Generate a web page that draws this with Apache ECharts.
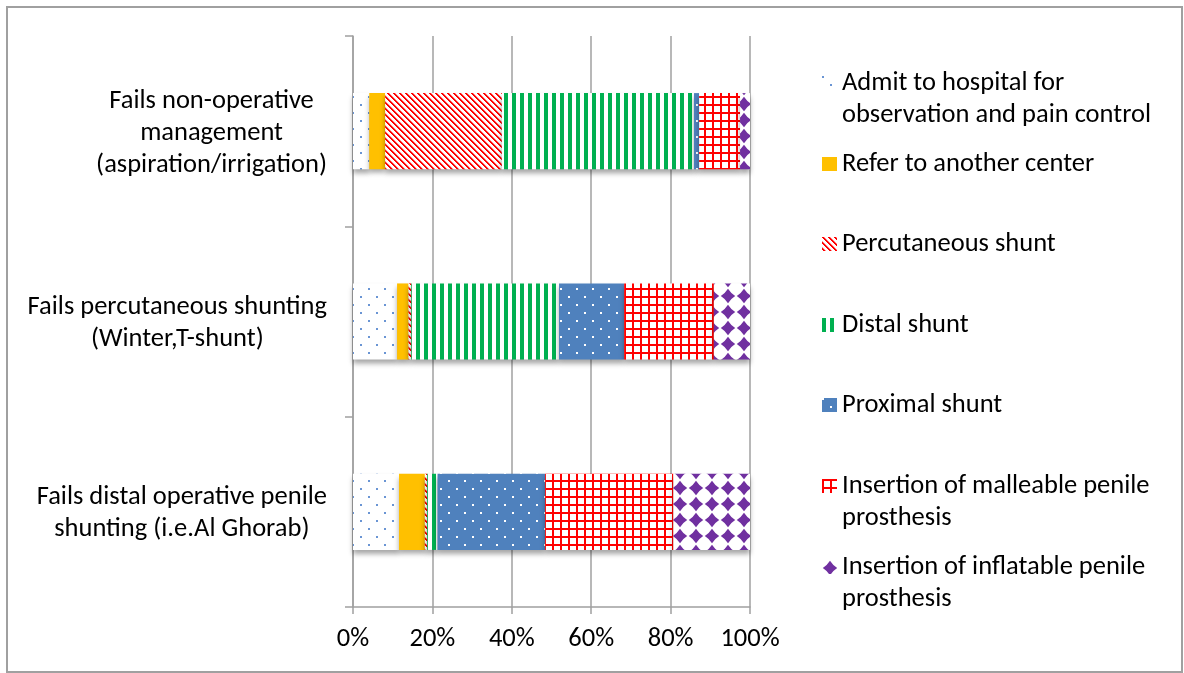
<!DOCTYPE html>
<html>
<head>
<meta charset="utf-8">
<script src="https://cdn.jsdelivr.net/npm/echarts@6/dist/echarts.min.js"></script>
<style>
  html, body { margin: 0; padding: 0; background: #ffffff; }
  #chart { width: 1184px; height: 673px; }
</style>
</head>
<body>
<div id="chart"></div>
<script>
// Categories, top to bottom
const categories = [
  'Fails non-operative\nmanagement\n(aspiration/irrigation)',
  'Fails percutaneous shunting\n(Winter,T-shunt)',
  'Fails distal operative penile\nshunting (i.e.Al Ghorab)'
];

// Series names (legend order)
const seriesNames = [
  'Admit to hospital for\nobservation and pain control',
  'Refer to another center',
  'Percutaneous shunt',
  'Distal shunt',
  'Proximal shunt',
  'Insertion of malleable penile\nprosthesis',
  'Insertion of inflatable penile\nprosthesis'
];

// Share of responses (%) per category
const admit        = [4.1, 11.1, 11.6];
const refer        = [4.0,  2.9,  6.5];
const percutaneous = [29.4, 0.7,  0.6];
const distal       = [48.4, 37.2, 2.6];
const proximal     = [1.3, 16.4, 27.1];
const malleable    = [10.3, 22.6, 32.3];
const inflatable   = [2.5,  9.1, 19.3];

// Value axis ticks (%)
const xTicks = [0, 20, 40, 60, 80, 100];

const FONT = 'Carlito, Lato, sans-serif';
const FS = 26.5;

// ---- fill patterns ----
function tile(w, h, draw) {
  const c = document.createElement('canvas');
  c.width = w; c.height = h;
  const g = c.getContext('2d');
  draw(g, w, h);
  return { image: c, repeat: 'repeat' };
}

function bitmap(rows, fg, bg, scale) {
  return tile(8 * scale, rows.length * scale, (g) => {
    g.fillStyle = bg; g.fillRect(0, 0, 8 * scale, rows.length * scale);
    g.fillStyle = fg;
    rows.forEach((bits, y) => {
      for (let x = 0; x < 8; x++) {
        if (bits & (0x80 >> x)) g.fillRect(x * scale, y * scale, scale, scale);
      }
    });
  });
}

// sparse dots
const patDots = tile(16, 16, (g) => {
  g.fillStyle = '#ffffff'; g.fillRect(0, 0, 16, 16);
  g.fillStyle = '#6a95d4';
  g.fillRect(0, 0, 2, 2);
  g.fillRect(8, 8, 2, 2);
});

// downward diagonal hatch
const patDiag = tile(6, 6, (g) => {
  g.fillStyle = '#ffffff'; g.fillRect(0, 0, 6, 6);
  for (let i = 0; i < 6; i++) {
    g.fillStyle = '#ff0000';
    g.fillRect(i, i, 1, 1);
    g.fillRect((i + 1) % 6, i, 1, 1);
    g.fillStyle = '#ff9a9a';
    g.fillRect((i + 2) % 6, i, 1, 1);
  }
});

// dark vertical stripes
const patVert = bitmap([0xCC, 0xCC], '#00b050', '#ffffff', 2);

// solid fill with white dots
const patBlueDots = tile(16, 16, (g) => {
  g.fillStyle = '#4f81bd'; g.fillRect(0, 0, 16, 16);
  g.fillStyle = '#ffffff';
  g.fillRect(0, 0, 2, 2);
  g.fillRect(8, 8, 2, 2);
});

// small grid
const patGrid = bitmap([0xFF, 0x88, 0x88, 0x88], '#ff0000', '#ffffff', 2);

// solid diamonds with slightly concave sides
const patDiamond = tile(16, 16, (g) => {
  g.fillStyle = '#ffffff'; g.fillRect(0, 0, 16, 16);
  g.fillStyle = '#7030a0';
  const cx = 8, cy = 8, r = 7.2, k = 2.8;
  g.beginPath();
  g.moveTo(cx, cy - r);
  g.quadraticCurveTo(cx + k, cy - k, cx + r, cy);
  g.quadraticCurveTo(cx + k, cy + k, cx, cy + r);
  g.quadraticCurveTo(cx - k, cy + k, cx - r, cy);
  g.quadraticCurveTo(cx - k, cy - k, cx, cy - r);
  g.closePath();
  g.fill();
});

const seriesData = [admit, refer, percutaneous, distal, proximal, malleable, inflatable];
const fills = [patDots, '#ffc000', patDiag, patVert, patBlueDots, patGrid, patDiamond];

// legend rows: first-line centre y of each entry
const legendCentres = [83, 164, 244, 325, 405, 486, 567];
const LH = 32;

// Two-line entries get an empty leading line so the marker sits beside the first line
const legends = seriesNames.map((name, i) => {
  const twoLines = name.indexOf('\n') >= 0;
  return {
    data: [name],
    formatter: twoLines ? (n) => '\n' + n : '{name}',
    left: 822,
    top: legendCentres[i] - (twoLines ? 1.5 * LH : LH / 2),
    orient: 'vertical',
    padding: 0,
    itemWidth: 15,
    itemHeight: 14,
    icon: 'rect',
    selectedMode: false,
    textStyle: {
      fontFamily: FONT, fontSize: FS, color: '#000000', lineHeight: LH
    }
  };
});

const chart = echarts.init(document.getElementById('chart'), null, { renderer: 'canvas' });

chart.setOption({
  animation: false,
  backgroundColor: '#ffffff',
  graphic: [{
    type: 'rect',
    shape: { x: 7, y: 7, width: 1175, height: 665 },
    style: { fill: 'none', stroke: '#a0a0a0', lineWidth: 2 },
    silent: true
  }],
  grid: { left: 353, right: 434, top: 36, bottom: 66 },
  legend: legends,
  xAxis: {
    type: 'value',
    min: xTicks[0],
    max: xTicks[xTicks.length - 1],
    interval: xTicks[1] - xTicks[0],
    axisLine: { show: true, lineStyle: { color: '#a0a0a0', width: 1.5 } },
    axisTick: { show: true, length: 7, lineStyle: { color: '#a0a0a0', width: 1.5 } },
    splitLine: { show: true, lineStyle: { color: '#a0a0a0', width: 1.5 } },
    axisLabel: {
      margin: 19,
      formatter: '{value}%',
      fontFamily: FONT, fontSize: FS, color: '#000000'
    }
  },
  yAxis: {
    type: 'category',
    data: categories,
    inverse: true,
    axisLine: { show: true, lineStyle: { color: '#a0a0a0', width: 1.5 } },
    axisTick: { show: true, length: 8, lineStyle: { color: '#a0a0a0', width: 1.5 } },
    splitLine: { show: false },
    axisLabel: {
      margin: 26,
      padding: [4, 0, 0, 0],
      formatter: (v) => v.split('\n').map((s) => '{c|' + s + '}').join('\n'),
      rich: {
        c: { align: 'center', fontFamily: FONT, fontSize: FS, lineHeight: 32, color: '#000000' }
      }
    }
  },
  series: seriesNames.map((name, i) => ({
    name: name,
    type: 'bar',
    stack: 'total',
    barWidth: '40%',
    data: seriesData[i],
    silent: true,
    itemStyle: {
      color: fills[i],
      shadowColor: 'rgba(0,0,0,0.35)',
      shadowBlur: 5,
      shadowOffsetY: 4
    }
  }))
});
</script>
</body>
</html>
